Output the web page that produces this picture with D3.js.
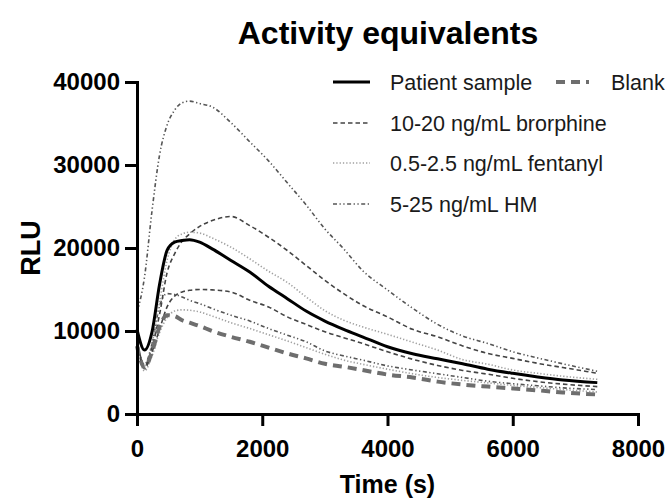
<!DOCTYPE html>
<html>
<head>
<meta charset="utf-8">
<script src="https://cdn.jsdelivr.net/npm/d3@7"></script>
<style>
  body { margin: 0; background: #fff; }
  svg { display: block; font-family: "Liberation Sans", Arial, sans-serif; }
  .axis path, .axis line { stroke: #000; stroke-width: 3; }
  .axis text { font-size: 24px; font-weight: bold; fill: #000; }
  .legend text { font-size: 21.5px; fill: #1a1a1a; }
</style>
</head>
<body>
<div id="chart"></div>
<script>
// time points (s)
const times = [0, 120, 240, 360, 480, 600, 720, 840, 1000, 1200, 1500, 1800, 2100, 2400,
  2700, 3000, 3300, 3600, 4000, 4400, 4800, 5200, 5600, 6000, 6400, 6800, 7350];

// RLU per series
const patient = [10200, 7700, 9900, 15600, 19700, 20700, 20900, 21000, 20700, 19900, 18500, 17100, 15400, 13900,
  12400, 11200, 10200, 9300, 8100, 7250, 6650, 6050, 5400, 4900, 4470, 4100, 3780];
const blank = [8200, 5600, 7500, 10500, 11900, 11800, 11300, 11000, 10600, 10000, 9300, 8700, 8000, 7300,
  6700, 6050, 5700, 5300, 4750, 4400, 3900, 3550, 3300, 3080, 2850, 2600, 2350];
const brorphine20 = [9000, 5800, 8000, 12000, 17000, 19300, 20800, 21700, 22600, 23300, 23800, 22700, 21300, 19700,
  17900, 16100, 14500, 13100, 11700, 10200, 9300, 8200, 7300, 6700, 6100, 5600, 4900];
const brorphine10 = [8500, 5500, 7500, 10200, 12900, 14200, 14700, 14900, 15000, 14950, 14700, 13700, 12900, 11700,
  10800, 9900, 9200, 8500, 7500, 6600, 5850, 5250, 4800, 4300, 3900, 3600, 3300];
const fentanyl25 = [8800, 5800, 8500, 13500, 18500, 21000, 21700, 21900, 21800, 21200, 20100, 18700, 17200, 15850,
  14100, 12450, 11300, 10500, 9600, 8650, 7700, 6550, 6000, 5300, 4900, 4550, 4180];
const fentanyl05 = [8000, 5200, 7000, 9800, 11600, 12400, 12550, 12500, 12300, 11800, 11000, 10300, 9550, 8800,
  8000, 7200, 6500, 6000, 5400, 4850, 4400, 4050, 3750, 3450, 3200, 2950, 2650];
const hm25 = [12200, 16500, 24500, 31200, 34800, 36600, 37500, 37700, 37400, 37000, 35100, 32800, 30500, 27850,
  25200, 22300, 19900, 17300, 14950, 12750, 10800, 9400, 8500, 7500, 6750, 6050, 5150];
const hm5 = [8500, 6000, 8500, 13000, 14500, 14400, 14100, 13700, 13300, 12700, 11900, 11200, 10300, 9500,
  8700, 7600, 7000, 6500, 5800, 5300, 4850, 4400, 3950, 3650, 3400, 3150, 2950];

const xTicks = [0, 2000, 4000, 6000, 8000];
const yTicks = [0, 10000, 20000, 30000, 40000];

const styles = {
  solid:   {stroke: "#000", width: 3, dash: null},
  blank:   {stroke: "#6e6e6e", width: 4, dash: "9,6"},
  dashed:  {stroke: "#444", width: 1.6, dash: "4.5,3"},
  dotted:  {stroke: "#a0a0a0", width: 1.6, dash: "1.3,2"},
  dashdot: {stroke: "#555", width: 1.6, dash: "4,2.5,1.3,2.5,1.3,2.5"}
};

const series = [
  {name: "HM 25", values: hm25, style: "dashdot"},
  {name: "HM 5", values: hm5, style: "dashdot"},
  {name: "fentanyl 0.5", values: fentanyl05, style: "dotted"},
  {name: "fentanyl 2.5", values: fentanyl25, style: "dotted"},
  {name: "brorphine 10", values: brorphine10, style: "dashed"},
  {name: "brorphine 20", values: brorphine20, style: "dashed"},
  {name: "Blank", values: blank, style: "blank"},
  {name: "Patient sample", values: patient, style: "solid"}
];

const width = 668, height = 499;
const margin = {top: 82, right: 30, bottom: 85, left: 137};

const svg = d3.select("#chart").append("svg")
    .attr("width", width)
    .attr("height", height);

const x = d3.scaleLinear().domain([0, 8000]).range([margin.left, width - margin.right]);
const y = d3.scaleLinear().domain([0, 40000]).range([height - margin.bottom, margin.top]);

const line = d3.line()
    .x((d, i) => x(times[i]))
    .y(d => y(d))
    .curve(d3.curveMonotoneX);

// curves
svg.append("g")
  .selectAll("path")
  .data(series)
  .join("path")
    .attr("fill", "none")
    .attr("stroke", d => styles[d.style].stroke)
    .attr("stroke-width", d => styles[d.style].width)
    .attr("stroke-dasharray", d => styles[d.style].dash)
    .attr("stroke-linejoin", "round")
    .attr("d", d => line(d.values));

// axes
svg.append("g")
    .attr("class", "axis")
    .attr("transform", "translate(0," + y(0) + ")")
    .call(d3.axisBottom(x).tickValues(xTicks).tickFormat(d3.format("d"))
      .tickSize(12).tickSizeOuter(0).tickPadding(14))
    .call(g => g.select(".domain").attr("stroke-linecap", "square"));

svg.append("g")
    .attr("class", "axis")
    .attr("transform", "translate(" + x(0) + ",0)")
    .call(d3.axisLeft(y).tickValues(yTicks).tickFormat(d3.format("d"))
      .tickSize(12).tickSizeOuter(0).tickPadding(5))
    .call(g => g.select(".domain").attr("stroke-linecap", "square"));

// titles
svg.append("text")
    .attr("x", 388).attr("y", 44)
    .attr("text-anchor", "middle")
    .style("font-size", "32px").style("font-weight", "bold")
    .text("Activity equivalents");

svg.append("text")
    .attr("x", (x(0) + x(8000)) / 2).attr("y", 493)
    .attr("text-anchor", "middle")
    .style("font-size", "25px").style("font-weight", "bold")
    .text("Time (s)");

svg.append("text")
    .attr("transform", "translate(40," + (y(20000)) + ") rotate(-90)")
    .attr("text-anchor", "middle")
    .style("font-size", "27px").style("font-weight", "bold")
    .text("RLU");

// legend
const legendItems = [
  {label: "Patient sample", style: "solid", x: 333, y: 82},
  {label: "Blank", style: "blank", x: 556, y: 82},
  {label: "10-20 ng/mL brorphine", style: "dashed", x: 333, y: 123},
  {label: "0.5-2.5 ng/mL fentanyl", style: "dotted", x: 333, y: 163},
  {label: "5-25 ng/mL HM", style: "dashdot", x: 333, y: 204}
];

const legend = svg.append("g")
    .attr("class", "legend")
  .selectAll("g")
  .data(legendItems)
  .join("g")
    .attr("transform", d => "translate(" + d.x + "," + d.y + ")");

legend.append("line")
    .attr("x1", 0)
    .attr("x2", d => d.style == "blank" ? 33 : 37)
    .attr("stroke", d => styles[d.style].stroke)
    .attr("stroke-width", d => styles[d.style].width)
    .attr("stroke-dasharray", d => styles[d.style].dash);

legend.append("text")
    .attr("x", d => d.style == "blank" ? 55 : 57)
    .attr("y", 8)
    .text(d => d.label);
</script>
</body>
</html>
